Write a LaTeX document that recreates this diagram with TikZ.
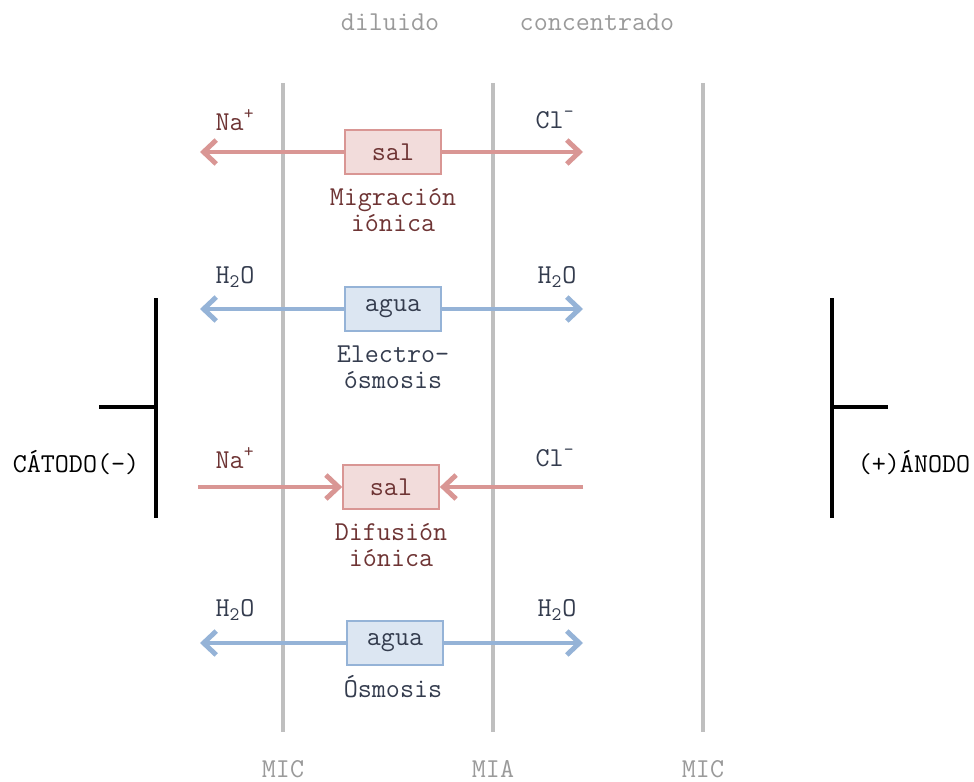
\documentclass[tikz,border=0pt]{standalone}
\usepackage{fontspec}
\usetikzlibrary{arrows.meta, positioning}

\definecolor{salline}{HTML}{D99694}
\definecolor{salfill}{HTML}{F2DCDB}
\definecolor{agualine}{HTML}{95B3D7}
\definecolor{aguafill}{HTML}{DCE6F2}
\definecolor{membrana}{HTML}{BFBFBF}
\definecolor{rotulo}{HTML}{9A9A9A}
\definecolor{saltext}{HTML}{6E3434}
\definecolor{aguatext}{HTML}{343C4E}

\begin{document}
\begin{tikzpicture}[x=0.025cm, y=-0.025cm,
    every node/.style={font=\ttfamily\fontsize{19.4}{18.5}\selectfont},
    caja/.style={rectangle, line width=1.2pt, minimum width=2.4cm,
                 minimum height=1.1cm, inner sep=0pt},
    salbox/.style={caja, draw=salline, fill=salfill, text=saltext},
    aguabox/.style={caja, draw=agualine, fill=aguafill, text=aguatext},
    salflujo/.style={draw=salline, line width=3.5pt,
                     -{Straight Barb[length=9pt, width=17pt]}},
    aguaflujo/.style={draw=agualine, line width=3.5pt,
                      -{Straight Barb[length=9pt, width=17pt]}},
    proceso/.style={align=center},
    membranalbl/.style={rotulo, anchor=base, inner sep=0pt},
    electrodo/.style={line width=3pt}
]
    \useasboundingbox (0,0) rectangle (974,782);

    % compartimentos y membranas
    \node[rotulo] (dil) at (390,22) {diluido};
    \node[rotulo] (conc) at (597,22) {concentrado};
    \draw[membrana, line width=2.2pt] (283,83) -- (283,732);
    \draw[membrana, line width=2.2pt] (493,83) -- (493,732);
    \draw[membrana, line width=2.2pt] (703,83) -- (703,732);
    \node[membranalbl] (mic1) at (283,777) {MIC};
    \node[membranalbl] (mia) at (493,777) {MIA};
    \node[membranalbl] (mic2) at (703,777) {MIC};

    % electrodos
    \draw[electrodo] (156,298) -- (156,518);
    \draw[electrodo] (99,407) -- (156,407);
    \draw[electrodo] (832,298) -- (832,518);
    \draw[electrodo] (832,407) -- (888,407);
    \node (cat) at (76,463) {CÁTODO(-)};
    \node (ano) at (914,463) {(+)ÁNODO};

    % migracion ionica
    \node[salbox] (sal1) at (393,152) {sal};
    \coordinate (na1) at (200,152);
    \coordinate (cl1) at (583,152);
    \draw[salflujo] (sal1) -- (na1);
    \draw[salflujo] (sal1) -- (cl1);
    \node[saltext] (na1t) at (235,120) {Na\textsuperscript{+}};
    \node[aguatext] (cl1t) at (555,120) {Cl\textsuperscript{-}};
    \node[proceso, saltext] (mig) at (393,210) {Migración\\iónica};

    % electro-osmosis
    \node[aguabox] (agua1) at (393,309) {agua};
    \coordinate (h1) at (200,309);
    \coordinate (h2) at (583,309);
    \draw[aguaflujo] (agua1) -- (h1);
    \draw[aguaflujo] (agua1) -- (h2);
    \node[aguatext] (h1t) at (235,277) {H\textsubscript{2}O};
    \node[aguatext] (h2t) at (557,277) {H\textsubscript{2}O};
    \node[proceso, aguatext] (eo) at (393,367) {Electro-\\ósmosis};

    % difusion ionica
    \node[salbox] (sal2) at (391,487) {sal};
    \coordinate (na2) at (198,487);
    \coordinate (cl2) at (583,487);
    \draw[salflujo] (na2) -- (sal2);
    \draw[salflujo] (cl2) -- (sal2);
    \node[saltext] (na2t) at (235,458) {Na\textsuperscript{+}};
    \node[aguatext] (cl2t) at (555,458) {Cl\textsuperscript{-}};
    \node[proceso, saltext] (dif) at (391,545) {Difusión\\iónica};

    % osmosis
    \node[aguabox] (agua2) at (395,643) {agua};
    \coordinate (h3) at (200,643);
    \coordinate (h4) at (583,643);
    \draw[aguaflujo] (agua2) -- (h3);
    \draw[aguaflujo] (agua2) -- (h4);
    \node[aguatext] (h3t) at (235,610) {H\textsubscript{2}O};
    \node[aguatext] (h4t) at (557,610) {H\textsubscript{2}O};
    \node[aguatext] (osm) at (393,687) {Ósmosis};
\end{tikzpicture}
\end{document}
